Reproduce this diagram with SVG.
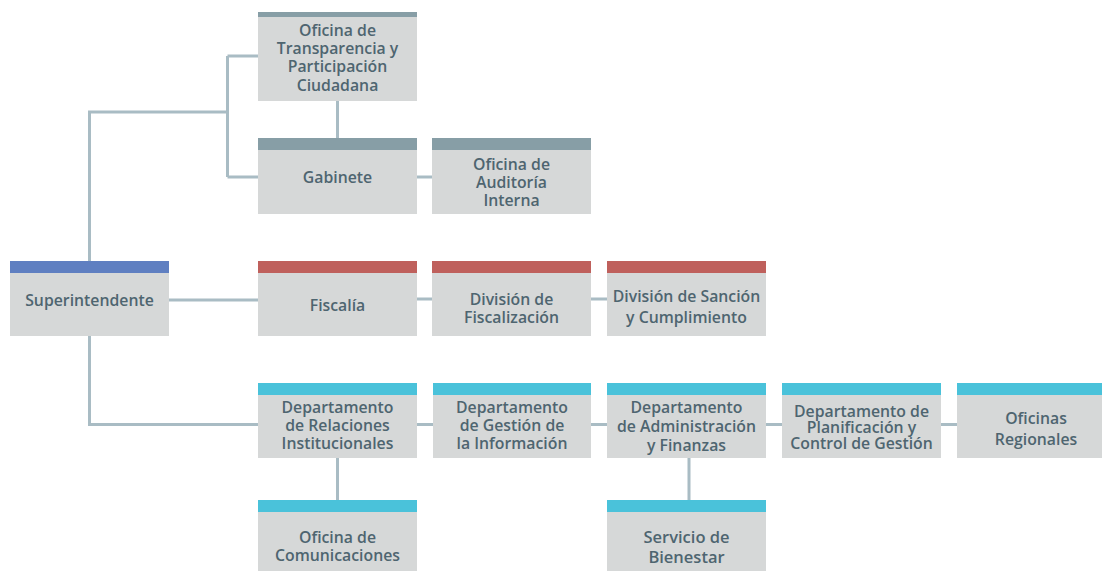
<svg xmlns="http://www.w3.org/2000/svg" width="1102" height="571" viewBox="0 0 1102 571">
<style>
.box{fill:#d6d8d8}
.hg{fill:#879ea6}
.hb{fill:#5f7fc1}
.hr{fill:#bf605c}
.hc{fill:#4ac2da}
text{font-family:"Open Sans","Noto Sans","Liberation Sans",sans-serif;font-weight:600;font-size:15.8px;fill:#4e6570;text-anchor:middle}
.con{fill:none;stroke:#a9bcc4;stroke-width:3}
</style>
<rect width="1102" height="571" fill="#ffffff"/>
<g id="connectors" class="con">
<path d="M89.5 261V112H227.5M227.5 56V177M227.5 56H258M227.5 177H258"/>
<path d="M337.5 101V138"/>
<path d="M417 177H432"/>
<path d="M169 300H258M417 299H432M591 299H607"/>
<path d="M89.5 336V424.5H258M417 424.5H433M591 424.5H607M766 424.5H782M941 424.5H957"/>
<path d="M337.5 458V500M689 458V500"/>
</g>
<g id="transparencia"><rect class="box" x="258" y="12" width="159" height="89"/><rect class="hg" x="258" y="12" width="159" height="5"/>
<text x="337.5" y="35.5">Oficina de</text><text x="337.5" y="53.5">Transparencia y</text><text x="337.5" y="71.5">Participación</text><text x="337.5" y="90.5">Ciudadana</text></g>
<g id="gabinete"><rect class="box" x="258" y="138" width="159" height="76"/><rect class="hg" x="258" y="138" width="159" height="12"/>
<text x="337.5" y="183">Gabinete</text></g>
<g id="auditoria"><rect class="box" x="432" y="138" width="159" height="76"/><rect class="hg" x="432" y="138" width="159" height="12"/>
<text x="511.5" y="169.5">Oficina de</text><text x="511.5" y="187.5">Auditoría</text><text x="511.5" y="205.5">Interna</text></g>
<g id="superintendente"><rect class="box" x="10" y="261" width="159" height="75"/><rect class="hb" x="10" y="261" width="159" height="12"/>
<text x="89.5" y="305.5">Superintendente</text></g>
<g id="fiscalia"><rect class="box" x="258" y="261" width="159" height="75"/><rect class="hr" x="258" y="261" width="159" height="12"/>
<text x="337.5" y="310.5">Fiscalía</text></g>
<g id="fiscalizacion"><rect class="box" x="432" y="261" width="159" height="75"/><rect class="hr" x="432" y="261" width="159" height="12"/>
<text x="511.5" y="305">División de</text><text x="511.5" y="322.5">Fiscalización</text></g>
<g id="sancion"><rect class="box" x="607" y="261" width="159" height="75"/><rect class="hr" x="607" y="261" width="159" height="12"/>
<text x="686.5" y="301.5">División de Sanción</text><text x="686.5" y="322.5">y Cumplimiento</text></g>
<g id="relaciones"><rect class="box" x="258" y="383" width="159" height="75"/><rect class="hc" x="258" y="383" width="159" height="12"/>
<text x="337.5" y="412.5">Departamento</text><text x="337.5" y="431">de Relaciones</text><text x="337.5" y="448.5">Institucionales</text></g>
<g id="informacion"><rect class="box" x="433" y="383" width="158" height="75"/><rect class="hc" x="433" y="383" width="158" height="12"/>
<text x="512" y="412.5">Departamento</text><text x="512" y="431">de Gestión de</text><text x="512" y="448.5">la Información</text></g>
<g id="administracion"><rect class="box" x="607" y="383" width="159" height="75"/><rect class="hc" x="607" y="383" width="159" height="12"/>
<text x="686.5" y="412.5">Departamento</text><text x="686.5" y="432">de Administración</text><text x="686.5" y="451">y Finanzas</text></g>
<g id="planificacion"><rect class="box" x="782" y="383" width="159" height="75"/><rect class="hc" x="782" y="383" width="159" height="12"/>
<text x="861.5" y="417">Departamento de</text><text x="861.5" y="432.5">Planificación y</text><text x="861.5" y="448.5">Control de Gestión</text></g>
<g id="regionales"><rect class="box" x="957" y="383" width="159" height="75"/><rect class="hc" x="957" y="383" width="159" height="12"/>
<text x="1036" y="423.5">Oficinas</text><text x="1036" y="444.5">Regionales</text></g>
<g id="comunicaciones"><rect class="box" x="258" y="500" width="159" height="75"/><rect class="hc" x="258" y="500" width="159" height="12"/>
<text x="337.5" y="542.5">Oficina de</text><text x="337.5" y="560.5">Comunicaciones</text></g>
<g id="bienestar"><rect class="box" x="607" y="500" width="159" height="75"/><rect class="hc" x="607" y="500" width="159" height="12"/>
<text x="686.5" y="543" style="font-size:16.5px">Servicio de</text><text x="686.5" y="563" style="font-size:16.5px">Bienestar</text></g>
</svg>
